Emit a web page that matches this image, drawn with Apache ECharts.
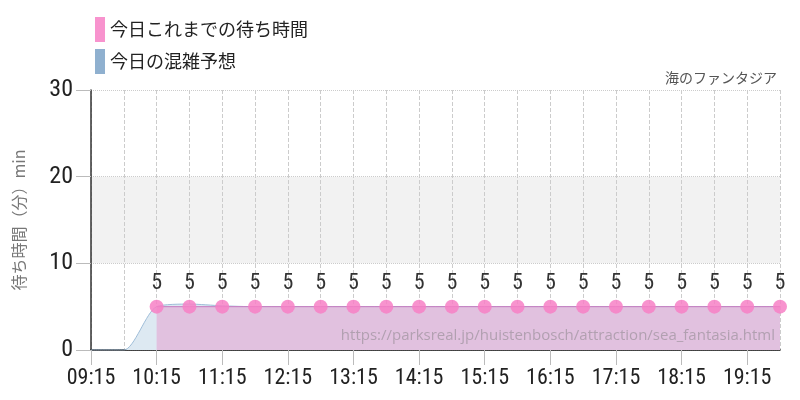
<!DOCTYPE html>
<html>
<head>
    <meta charset="utf-8">
    <title>海のファンタジア</title>
    <script src="https://cdn.jsdelivr.net/npm/echarts@6/dist/echarts.min.js"></script>
    <style>
      html, body { margin: 0; padding: 0; background: #fff; }
      #main { width: 800px; height: 400px; }
    </style>
</head>
<body>
    <div id="main"></div>
    <script type="text/javascript">

// 時刻（30分毎）
let times = ['09:15','09:45','10:15','10:45','11:15','11:45','12:15','12:45','13:15','13:45',
  '14:15','14:45','15:15','15:45','16:15','16:45','17:15','17:45','18:15','18:45','19:15','19:45']
// 今日これまでの待ち時間
let actual = [null,null,5,5,5,5,5,5,5,5,5,5,5,5,5,5,5,5,5,5,5,5]
// 今日の混雑予想
let forecast = [0,0,5,5.3,5.1,5,5,5,5,5,5,5,5,5,5,5,5,5,5,5,5,5]
let yTicks = [0,10,20,30]

let numFont = "'Roboto Condensed','Liberation Sans Narrow','DejaVu Sans Condensed',sans-serif"
let jpFont = "'Noto Sans CJK JP',sans-serif"

var option = {
    animation: false,
    title: {
        text: '海のファンタジア',
        right: 18,
        top: 66,
        textStyle: { fontSize: 14, fontWeight: 'normal', color: '#555', fontFamily: jpFont }
    },
    legend: {
        orient: 'vertical',
        left: 90,
        top: 12,
        icon: 'rect',
        itemWidth: 10,
        itemHeight: 25,
        itemGap: 7,
        selectedMode: false,
        textStyle: { fontSize: 18, color: '#222', fontFamily: jpFont },
        data: ['今日これまでの待ち時間', '今日の混雑予想']
    },
    grid: { left: 91, right: 20, top: 90, bottom: 50 },
    xAxis: {
        type: 'category',
        boundaryGap: false,
        data: times,
        axisLine: { lineStyle: { color: '#111', width: 1.5 } },
        axisTick: { show: true, interval: 1, length: 15, lineStyle: { color: '#bbb' } },
        axisLabel: { interval: 1, fontSize: 22, color: '#222', fontFamily: numFont, margin: 17 },
        splitLine: { show: true, interval: 0, lineStyle: { color: '#ccc', type: 'dashed' } }
    },
    yAxis: {
        type: 'value',
        min: 0,
        max: 30,
        interval: 10,
        name: '待ち時間（分）min',
        nameLocation: 'middle',
        nameGap: 64,
        nameTextStyle: { fontSize: 16, color: '#777', fontFamily: jpFont },
        axisLine: { show: true, lineStyle: { color: '#333', width: 1.5 } },
        axisTick: { show: true, length: 15, lineStyle: { color: '#bbb' } },
        axisLabel: { fontSize: 24, color: '#222', fontFamily: numFont, margin: 18,
            formatter: v => yTicks.indexOf(v) > -1 ? String(v) : '' },
        splitLine: { show: true, lineStyle: { color: '#ccc', type: 'dotted' } },
        splitArea: { show: true, areaStyle: { color: ['rgba(0,0,0,0)', '#f2f2f2'] } }
    },
    graphic: [{
        type: 'text',
        right: 25,
        bottom: 57,
        z: 100,
        style: {
            text: 'https://parksreal.jp/huistenbosch/attraction/sea_fantasia.html',
            fontSize: 15,
            fontFamily: "'Open Sans',sans-serif",
            fill: 'rgba(120,120,120,0.45)'
        }
    }],
    series: [
        {
            name: '今日の混雑予想',
            type: 'line',
            data: forecast,
            smooth: 0.25,
            symbol: 'none',
            color: '#8fb0cf',
            lineStyle: { color: '#9fbdd8', width: 1 },
            areaStyle: { color: '#dde9f2', opacity: 1 },
            z: 1
        },
        {
            name: '今日これまでの待ち時間',
            type: 'line',
            data: actual,
            symbol: 'circle',
            symbolSize: 14,
            color: '#ff88cc',
            itemStyle: { color: 'rgba(247,128,198,0.85)' },
            lineStyle: { color: '#c77bc0', width: 1 },
            areaStyle: { color: '#e1c1df', opacity: 1 },
            label: {
                show: true,
                position: 'top',
                distance: 5,
                fontSize: 22,
                color: '#333',
                fontFamily: numFont
            },
            z: 2
        }
    ]
}

echarts.init(document.getElementById('main')).setOption(option)

    </script>
</body>
</html>
